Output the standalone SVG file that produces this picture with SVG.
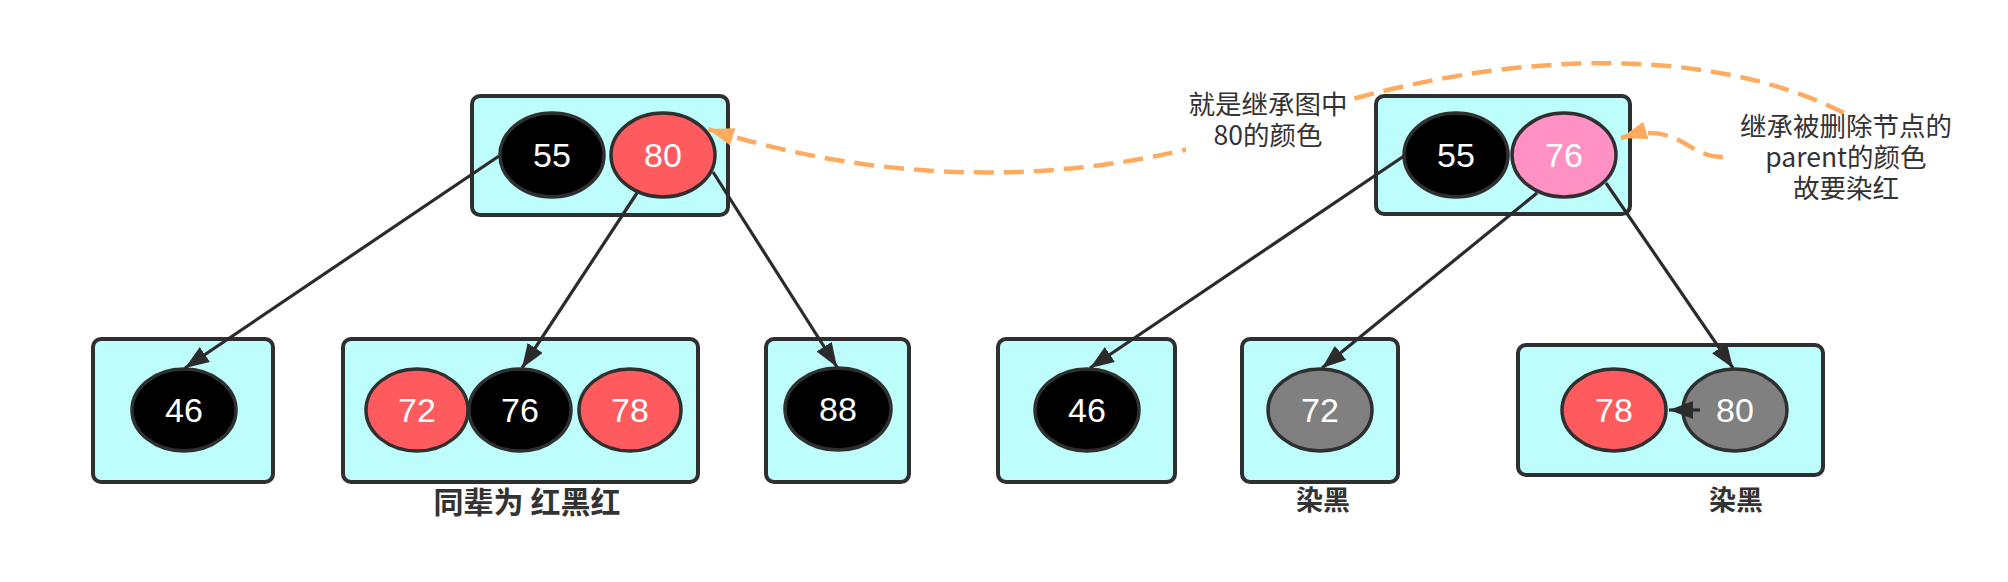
<svg xmlns="http://www.w3.org/2000/svg" width="2008" height="582" viewBox="0 0 2008 582">
<defs>
<style>
.box{fill:#BDFDFB;stroke:#2f2f2f;stroke-width:4}
.n{stroke:#2f2f2f;stroke-width:3.5}
.blk{fill:#000}
.red{fill:#FF5B5F}
.pink{fill:#FF91C4}
.gry{fill:#808080}
.v{font-family:"Liberation Sans",Arial,sans-serif;font-size:34px;fill:#fff;text-anchor:middle}
.edge{fill:none;stroke:#2b2b2b;stroke-width:3.2}
.dash{fill:none;stroke:#FFAB5F;stroke-width:4.5;stroke-dasharray:20 10}
.note{font-family:"Noto Sans CJK SC","Liberation Sans",sans-serif;font-size:26.5px;fill:#333;text-anchor:middle}
.lab{font-family:"Noto Sans CJK SC","Liberation Sans",sans-serif;font-size:27px;font-weight:bold;fill:#333;text-anchor:middle}
.big{font-size:30px}
</style>
<marker id="ah" markerUnits="userSpaceOnUse" markerWidth="26" markerHeight="20" refX="24" refY="9" orient="auto" viewBox="0 0 26 20">
<path d="M0,0 L24,9 L0,18 z" fill="#2b2b2b"/>
</marker>
<marker id="oh" markerUnits="userSpaceOnUse" markerWidth="28" markerHeight="20" refX="26" refY="9" orient="auto" viewBox="0 0 28 20">
<path d="M0,0 L26,9 L0,18 z" fill="#FFAB5F"/>
</marker>
</defs>
<rect width="2008" height="582" fill="#fff"/>

<g id="L-root">
<rect class="box" x="472" y="96" width="256" height="119" rx="8"/>
<ellipse class="n blk" cx="552" cy="155" rx="52" ry="42"/>
<text class="v" x="552" y="167">55</text>
<ellipse class="n red" cx="663" cy="155" rx="52" ry="42"/>
<text class="v" x="663" y="167">80</text>
</g>

<g id="L-46">
<rect class="box" x="93" y="339" width="180" height="143" rx="8"/>
<ellipse class="n blk" cx="184" cy="410" rx="52" ry="41"/>
<text class="v" x="184" y="422">46</text>
</g>

<g id="L-mid">
<rect class="box" x="343" y="339" width="355" height="143" rx="8"/>
<ellipse class="n red" cx="417" cy="410" rx="51" ry="41"/>
<text class="v" x="417" y="422">72</text>
<ellipse class="n blk" cx="520" cy="410" rx="51" ry="41"/>
<text class="v" x="520" y="422">76</text>
<ellipse class="n red" cx="630" cy="410" rx="51" ry="41"/>
<text class="v" x="630" y="422">78</text>
</g>
<text id="label-mid" class="lab big" x="527" y="513">同辈为 红黑红</text>

<g id="L-88">
<rect class="box" x="766" y="339" width="143" height="143" rx="8"/>
<ellipse class="n blk" cx="838" cy="409" rx="53" ry="41"/>
<text class="v" x="838" y="421">88</text>
</g>

<g id="R-root">
<rect class="box" x="1376" y="96" width="254" height="118" rx="8"/>
<ellipse class="n blk" cx="1456" cy="155" rx="52" ry="42"/>
<text class="v" x="1456" y="167">55</text>
<ellipse class="n pink" cx="1564" cy="155" rx="52" ry="42"/>
<text class="v" x="1564" y="167">76</text>
</g>

<g id="R-46">
<rect class="box" x="998" y="339" width="177" height="143" rx="8"/>
<ellipse class="n blk" cx="1087" cy="410" rx="52" ry="41"/>
<text class="v" x="1087" y="422">46</text>
</g>

<g id="R-72">
<rect class="box" x="1242" y="339" width="156" height="143" rx="8"/>
<ellipse class="n gry" cx="1320" cy="410" rx="52" ry="41"/>
<text class="v" x="1320" y="422">72</text>
</g>
<text id="label-72" class="lab" x="1323" y="510">染黑</text>

<g id="R-right">
<rect class="box" x="1518" y="345" width="305" height="130" rx="8"/>
<ellipse class="n red" cx="1614" cy="410" rx="52" ry="41"/>
<text class="v" x="1614" y="422">78</text>
<ellipse class="n gry" cx="1735" cy="410" rx="52" ry="41"/>
<text class="v" x="1735" y="422">80</text>
</g>
<text id="label-80" class="lab" x="1736" y="510">染黑</text>

<g id="connectors">
<path class="edge" d="M499,156 L185,368" marker-end="url(#ah)"/>
<path class="edge" d="M637,193 L522,368" marker-end="url(#ah)"/>
<path class="edge" d="M713,172 L837,367" marker-end="url(#ah)"/>
<path class="edge" d="M1404,156 L1090,368" marker-end="url(#ah)"/>
<path class="edge" d="M1537,193 L1322,368" marker-end="url(#ah)"/>
<path class="edge" d="M1606,183 L1733,368" marker-end="url(#ah)"/>
<path class="edge" d="M1700,410 L1669,410" marker-end="url(#ah)"/>
<path class="dash" d="M1844,113 C1700,40 1480,50 1270,125 C1100,185 900,190 708,129" marker-end="url(#oh)"/>
<path class="dash" d="M1723,157 C1685,157 1680,120 1621,138" marker-end="url(#oh)"/>
</g>

<g id="note-left">
<rect x="1186" y="88" width="166" height="64" fill="#fff"/>
<text class="note" x="1268" y="114">就是继承图中</text>
<text class="note" x="1268" y="145">80的颜色</text>
</g>

<g id="note-right">
<text class="note" x="1846" y="136">继承被删除节点的</text>
<text class="note" x="1846" y="167">parent的颜色</text>
<text class="note" x="1846" y="198">故要染红</text>
</g>
</svg>
